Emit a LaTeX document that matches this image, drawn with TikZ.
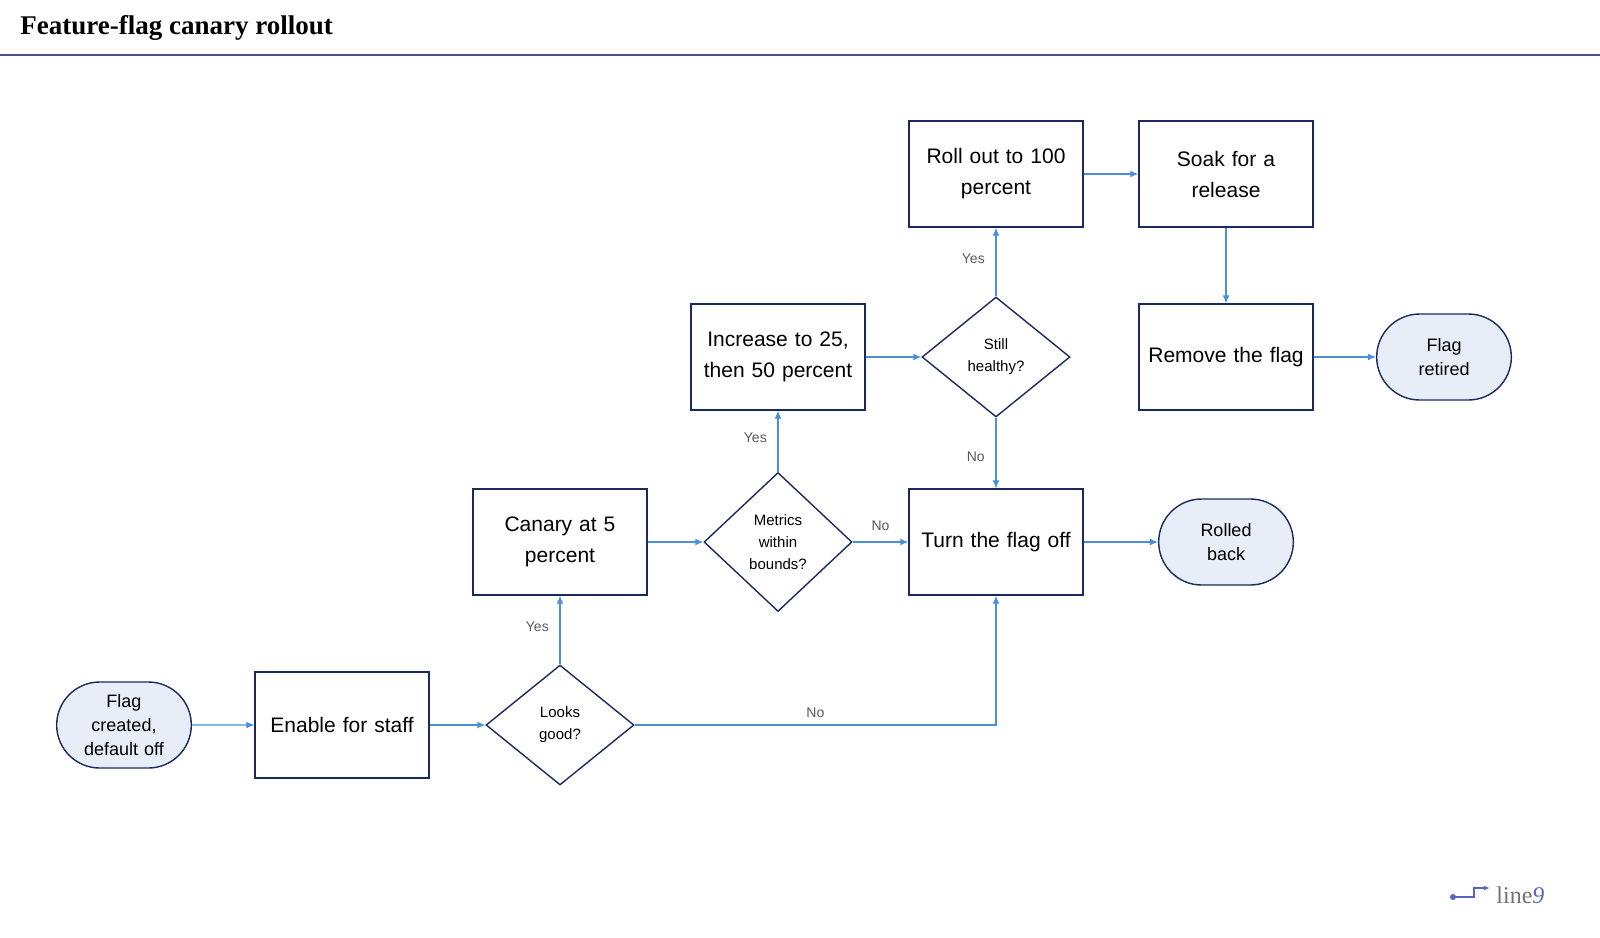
\documentclass[tikz,border=0pt]{standalone}
\usepackage{fontspec}
\setmainfont{Liberation Sans}
\newfontfamily\titlefont{Liberation Serif}
\usetikzlibrary{arrows.meta, positioning, shapes.geometric, shapes.misc}
\definecolor{navy}{HTML}{1B2A5C}
\definecolor{flow}{HTML}{4A8FDB}
\definecolor{termfill}{HTML}{E8EEF7}
\tikzset{
	box/.style={rectangle, draw=navy, line width=0.7pt, minimum width=87pt, minimum height=53pt,
		inner sep=1pt, text width=85pt, align=center, font=\fontsize{10.5}{15.5}\selectfont},
	decide/.style={diamond, draw=navy, line width=0.7pt, minimum width=74pt, aspect=1, inner sep=0pt,
		text width=42pt, align=center, font=\fontsize{7.5}{11}\selectfont},
	term/.style={rounded rectangle, draw=navy, fill=termfill, line width=0.7pt, minimum width=74pt,
		minimum height=43pt, text width=46pt, align=center, font=\fontsize{9}{12}\selectfont},
	link/.style={-{Latex[length=4pt,width=3.5pt]}, draw=flow, line width=0.6pt},
	tag/.style={font=\fontsize{7}{8}\selectfont, text=black!65}
}
\begin{document}
\begin{tikzpicture}[x=0.5pt, y=-0.5pt]
	\useasboundingbox (0,0) rectangle (1600,937);
	% title
	\node[anchor=west, inner sep=0pt, font=\titlefont\bfseries\fontsize{13.5}{15}\selectfont] (title) at (20,28) {Feature-flag canary rollout};
	\draw[navy!80, line width=0.6pt] (0,55) -- (1600,55);

	% nodes
	\node[term]   (created) at (124,725)  {Flag\\created,\\default off};
	\node[box]    (staff)   at (342,725)  {Enable for staff};
	\node[decide] (good)    at (560,725)  {Looks good?};
	\node[box]    (canary)  at (560,542)  {Canary at 5\\percent};
	\node[decide] (metrics) at (778,542)  {Metrics within bounds?};
	\node[box]    (grow)    at (778,357)  {Increase to 25,\\then 50 percent};
	\node[decide] (healthy) at (996,357)  {Still healthy?};
	\node[box]    (full)    at (996,174)  {Roll out to 100\\percent};
	\node[box]    (soak)    at (1226,174) {Soak for a\\release};
	\node[box]    (remove)  at (1226,357) {Remove the flag};
	\node[term]   (retired) at (1444,357) {Flag\\retired};
	\node[box]    (off)     at (996,542)  {Turn the flag off};
	\node[term]   (back)    at (1226,542) {Rolled\\back};

	% connectors
	\draw[link] (created) -- (staff);
	\draw[link] (staff) -- (good);
	\draw[link] (good) -- node[tag, left=2pt, pos=0.55] {Yes} (canary);
	\draw[link] (good.east) -| node[tag, above, pos=0.25] {No} (off.south);
	\draw[link] (canary) -- (metrics);
	\draw[link] (metrics) -- node[tag, left=2pt, pos=0.55] {Yes} (grow);
	\draw[link] (metrics) -- node[tag, above=2pt, pos=0.5] {No} (off);
	\draw[link] (grow) -- (healthy);
	\draw[link] (healthy) -- node[tag, left=2pt, pos=0.55] {Yes} (full);
	\draw[link] (healthy) -- node[tag, left=2pt, pos=0.55] {No} (off);
	\draw[link] (full) -- (soak);
	\draw[link] (soak) -- (remove);
	\draw[link] (remove) -- (retired);
	\draw[link] (off) -- (back);

	% logo
	\coordinate (dot) at (1453,897);
	\fill[flow!70!violet] (dot) circle (3);
	\draw[flow!70!violet, line width=0.8pt, -{Latex[length=3pt]}] (dot) -- (1474,897) -- (1474,888) -- (1490,888);
	\node[anchor=west, font=\titlefont\fontsize{12}{14}\selectfont, text=black!55, inner sep=0pt] (logo) at (1496,895) {line\textit{\color{flow!70!violet}9}};
\end{tikzpicture}
\end{document}
